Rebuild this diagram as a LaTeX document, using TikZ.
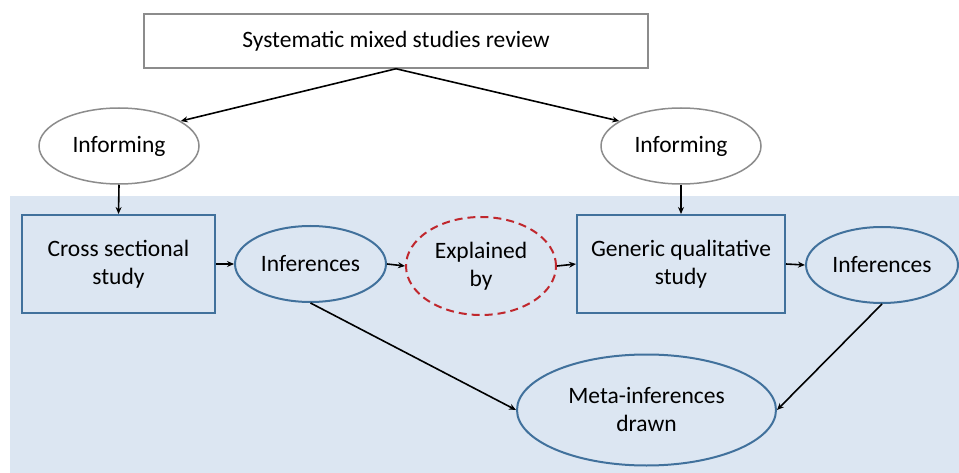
\documentclass[tikz,border=0pt]{standalone}
\usepackage{fontspec}
\setmainfont{Carlito}
\usetikzlibrary{shapes.geometric,arrows.meta}
\definecolor{bgblue}{HTML}{DCE6F2}
\definecolor{edgeblue}{HTML}{41719C}
\definecolor{edgegray}{HTML}{8C8C8C}
\definecolor{dashred}{HTML}{C0272D}
\tikzset{
  every node/.style={font=\fontsize{23.5}{28}\selectfont, align=center, inner sep=0pt},
  graybox/.style={draw=edgegray, line width=1.5pt, fill=white, rectangle},
  grayell/.style={draw=edgegray, line width=1.5pt, fill=white, ellipse},
  bluebox/.style={draw=edgeblue, line width=2pt, fill=bgblue, rectangle},
  blueell/.style={draw=edgeblue, line width=2pt, fill=bgblue, ellipse},
  redell/.style={draw=dashred, line width=2pt, dash pattern=on 8pt off 5pt, fill=bgblue, ellipse},
  conn/.style={draw=black, line width=1.6pt, -{Stealth[length=7pt,width=6pt]}},
}
\begin{document}
\begin{tikzpicture}[x=1pt,y=-1pt]
\useasboundingbox (0,0) rectangle (959,473);
\fill[bgblue] (10,196) rectangle (959,473);
\node[graybox, minimum width=504pt, minimum height=54pt] (smsr) at (396,41) {Systematic mixed studies review};
\node[grayell, minimum width=160pt, minimum height=76pt] (infL) at (119,146) {Informing};
\node[grayell, minimum width=160pt, minimum height=76pt] (infR) at (681,146) {Informing};
\node[bluebox, minimum width=193pt, minimum height=98pt] (cross) at (118.5,264) {Cross sectional\\study};
\node[blueell, minimum width=151pt, minimum height=76pt] (inf1) at (310.5,264) {Inferences};
\node[redell, minimum width=150pt, minimum height=98pt] (expl) at (481,266) {Explained\\by};
\node[bluebox, minimum width=208pt, minimum height=98pt] (gen) at (681,264) {Generic qualitative\\study};
\node[blueell, minimum width=152pt, minimum height=76pt] (inf2) at (882,265) {Inferences};
\node[blueell, minimum width=259pt, minimum height=111pt] (meta) at (646.5,410) {Meta-inferences\\drawn};
\coordinate (apex) at (smsr.south);
\draw[conn] (apex) -- (infL.22);
\draw[conn] (apex) -- (infR.158);
\draw[conn] (infL.south) -- (cross.north);
\draw[conn] (infR.south) -- (gen.north);
\draw[conn] (cross.east) -- (inf1.west);
\draw[conn] (inf1.east) -- (expl.west);
\draw[conn] (expl.east) -- (gen.west);
\draw[conn] (gen.east) -- (inf2.west);
\draw[conn] (inf1.south) -- (meta.west);
\draw[conn] (inf2.south) -- (meta.east);
\end{tikzpicture}
\end{document}
